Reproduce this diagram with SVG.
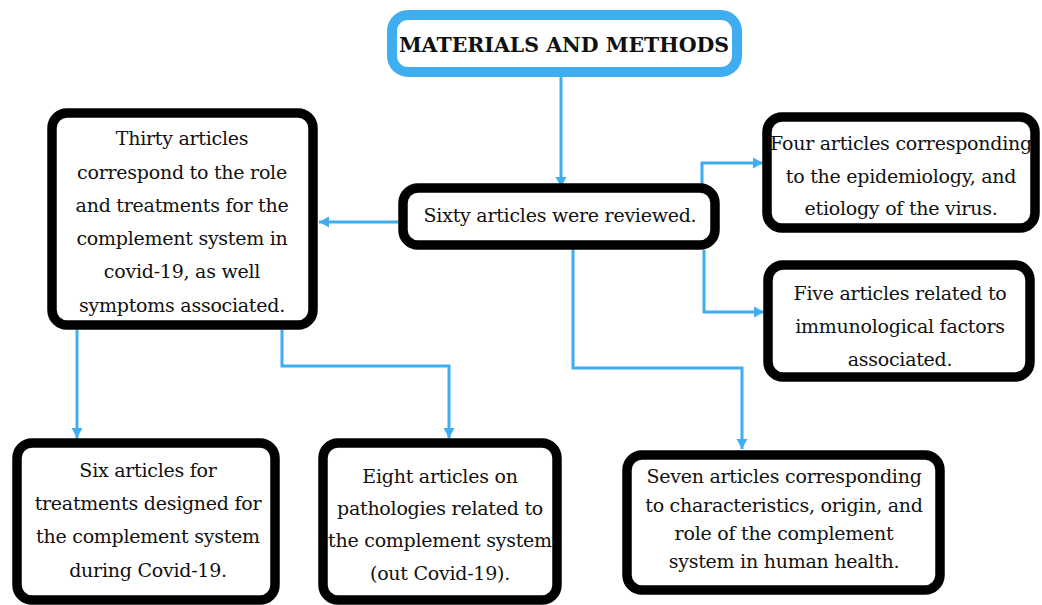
<svg xmlns="http://www.w3.org/2000/svg" width="1042" height="605" viewBox="0 0 1042 605">
<style>
.box{fill:#fff;stroke:#000;stroke-width:9.5}
.title{fill:#fff;stroke:#3eaef0;stroke-width:10}
text{font-family:"DejaVu Serif","Liberation Serif",serif;font-size:19px;letter-spacing:-0.25px;fill:#111;text-anchor:middle}
.tb{font-weight:bold;font-size:20.5px;letter-spacing:0}
.c{fill:none;stroke:#3eaef0;stroke-width:3}
</style>
<defs>
<marker id="ah" markerUnits="userSpaceOnUse" markerWidth="12" markerHeight="12" refX="10" refY="6" orient="auto">
<path d="M0,0.5 L10,6 L0,11.5 Z" fill="#3eaef0"/>
</marker>
</defs>
<rect width="1042" height="605" fill="#fff"/>
<g id="connectors">
<path class="c" d="M561,77 V187" marker-end="url(#ah)"/>
<path class="c" d="M398,222 H319" marker-end="url(#ah)"/>
<path class="c" d="M702,184 V163 H763" marker-end="url(#ah)"/>
<path class="c" d="M704,250 V312 H764" marker-end="url(#ah)"/>
<path class="c" d="M573,250 V368 H742 V449" marker-end="url(#ah)"/>
<path class="c" d="M77,330 V438" marker-end="url(#ah)"/>
<path class="c" d="M282,330 V366 H449 V438" marker-end="url(#ah)"/>
</g>
<g id="n-title">
<rect class="title" x="392" y="15" width="345" height="57" rx="16"/>
<text class="tb" x="564" y="52">MATERIALS AND METHODS</text>
</g>
<g id="n-sixty">
<rect class="box" x="403" y="188" width="312" height="57" rx="15"/>
<text x="560" y="222">Sixty articles were reviewed.</text>
</g>
<g id="n-thirty">
<rect class="box" x="52" y="113" width="261" height="212" rx="15"/>
<text x="182" y="145">Thirty articles</text>
<text x="182" y="179">correspond to the role</text>
<text x="182" y="212">and treatments for the</text>
<text x="182" y="245">complement system in</text>
<text x="182" y="278">covid-19, as well</text>
<text x="182" y="312">symptoms associated.</text>
</g>
<g id="n-four">
<rect class="box" x="767" y="117" width="268" height="111" rx="15"/>
<text x="901" y="150">Four articles corresponding</text>
<text x="901" y="183">to the epidemiology, and</text>
<text x="901" y="215">etiology of the virus.</text>
</g>
<g id="n-five">
<rect class="box" x="768" y="265" width="262" height="112" rx="15"/>
<text x="900" y="300">Five articles related to</text>
<text x="900" y="333">immunological factors</text>
<text x="900" y="366">associated.</text>
</g>
<g id="n-six">
<rect class="box" x="17" y="443" width="258" height="157" rx="15"/>
<text x="148" y="477">Six articles for</text>
<text x="148" y="510">treatments designed for</text>
<text x="148" y="543">the complement system</text>
<text x="148" y="577">during Covid-19.</text>
</g>
<g id="n-eight">
<rect class="box" x="323" y="443" width="234" height="157" rx="15"/>
<text x="440" y="483">Eight articles on</text>
<text x="440" y="515">pathologies related to</text>
<text x="440" y="547">the complement system</text>
<text x="440" y="580">(out Covid-19).</text>
</g>
<g id="n-seven">
<rect class="box" x="627" y="455" width="313" height="135" rx="15"/>
<text x="784" y="483">Seven articles corresponding</text>
<text x="784" y="512">to characteristics, origin, and</text>
<text x="784" y="540">role of the complement</text>
<text x="784" y="568">system in human health.</text>
</g>
</svg>
